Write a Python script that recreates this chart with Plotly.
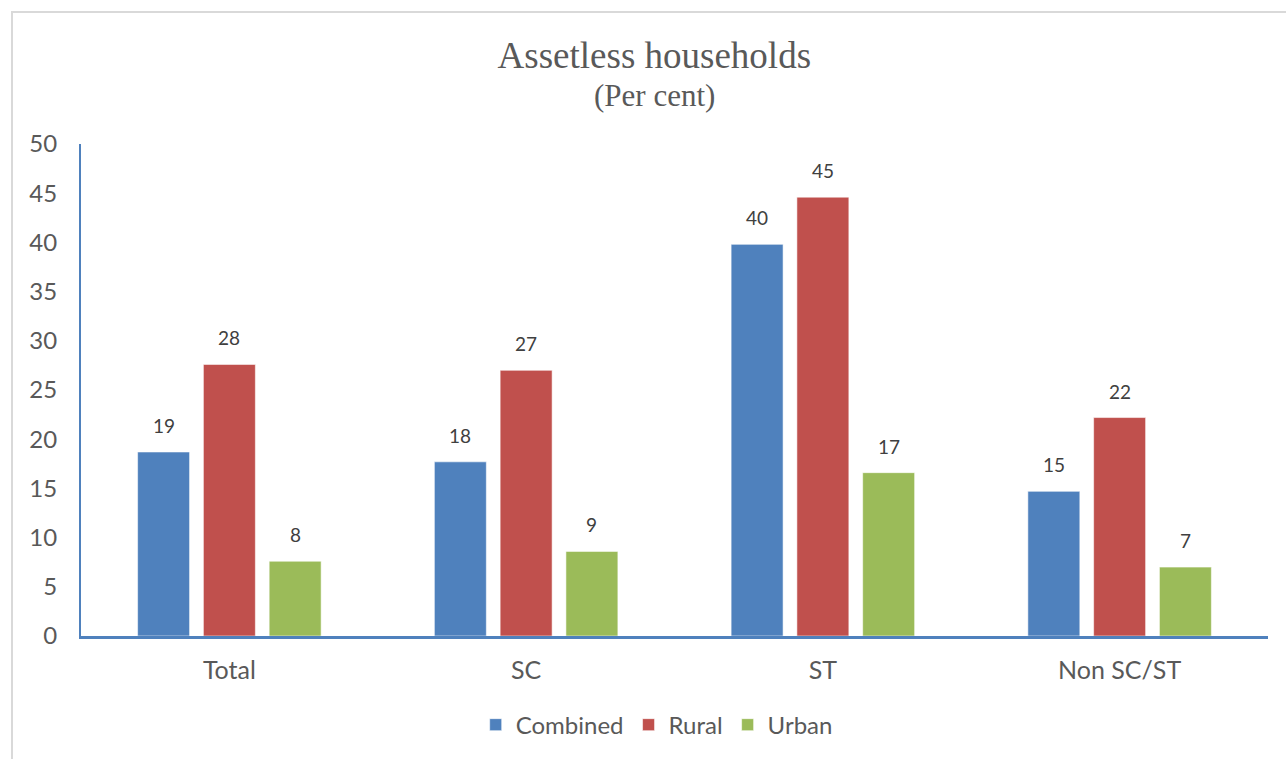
import plotly.graph_objects as go

# Share of households owning no assets, by social group and area
groups = ["Total", "SC", "ST", "Non SC/ST"]
combined = [18.7, 17.7, 39.8, 14.7]
rural = [27.6, 27.0, 44.6, 22.2]
urban = [7.6, 8.6, 16.6, 7.0]

series = [
    ("Combined", combined, "#4F81BD"),
    ("Rural", rural, "#C0504D"),
    ("Urban", urban, "#9BBB59"),
]

BARGAP = 0.335
GROUPGAP = 0.21
FONT = "Lato"
PLOT_TOP, PLOT_H = 144, 492  # plot area top edge and height in pixels

fig = go.Figure()
for name, vals, color in series:
    fig.add_trace(go.Bar(
        name=name, x=groups, y=vals,
        marker=dict(color=color, line=dict(color="rgba(255,255,255,0.55)", width=1)),
        hoverinfo="x+y+name",
    ))

# Value labels above each bar, rounded to whole per cent
slot = (1 - BARGAP) / len(series)
annotations = []
for i, (name, vals, color) in enumerate(series):
    offset = (i - (len(series) - 1) / 2) * slot
    for k, v in enumerate(vals):
        annotations.append(dict(
            x=k + offset, y=v, xref="x", yref="y",
            text=f"{v:.0f}", showarrow=False,
            yanchor="bottom", yshift=13,
            font=dict(family=FONT, size=19, color="#404040"),
        ))

# Unit line under the title
annotations.append(dict(
    text="(Per cent)", showarrow=False,
    x=0.483, xref="paper", xanchor="center",
    y=1 + (PLOT_TOP - 96) / PLOT_H, yref="paper", yanchor="middle",
    font=dict(family="Liberation Serif", size=31, color="#595959"),
))

fig.update_layout(
    width=1286, height=759,
    paper_bgcolor="white", plot_bgcolor="white",
    margin=dict(l=81, r=18, t=PLOT_TOP, b=759 - PLOT_TOP - PLOT_H),
    barmode="group", bargap=BARGAP, bargroupgap=GROUPGAP,
    title=dict(
        text="Assetless households",
        font=dict(family="Liberation Serif", size=37, color="#595959"),
        x=0.483, xref="paper", xanchor="center",
        y=1 - 55 / 759, yref="container", yanchor="middle",
    ),
    xaxis=dict(
        showline=True, linecolor="#4F81BD", linewidth=2.5,
        showgrid=False, ticks="", ticklabelstandoff=10,
        tickfont=dict(family=FONT, size=25, color="#595959"),
    ),
    yaxis=dict(
        range=[0, 50], dtick=5, showline=True, linecolor="#4F81BD", linewidth=2,
        showgrid=False, zeroline=False, ticks="", ticklabelstandoff=17,
        tickfont=dict(family=FONT, size=24, color="#595959"),
    ),
    legend=dict(
        orientation="h", x=0.485, xanchor="center", y=-0.181, yanchor="middle",
        font=dict(family=FONT, size=24, color="#595959"),
        itemwidth=30, traceorder="normal",
    ),
    annotations=annotations,
    shapes=[dict(
        type="rect", xref="paper", yref="paper",
        x0=(12 - 81) / 1187, x1=1.2, y0=-0.5, y1=1 + (PLOT_TOP - 12) / PLOT_H,
        line=dict(color="#D9D9D9", width=2), layer="below",
    )],
)

fig.write_html("out.html")
